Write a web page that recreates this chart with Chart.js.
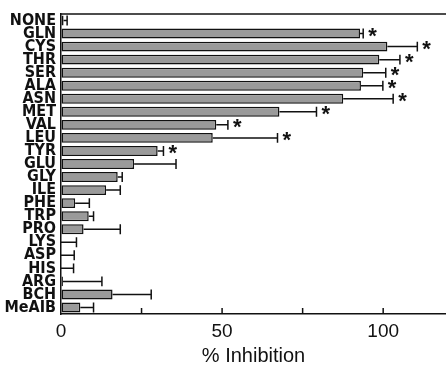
<!DOCTYPE html>
<html>
<head>
<meta charset="utf-8">
<script src="https://cdn.jsdelivr.net/npm/chart.js@4/dist/chart.umd.min.js"></script>
<style>
html,body{margin:0;padding:0;background:#fff;}
#wrap{width:446px;height:368px;position:relative;}
</style>
</head>
<body>
<div id="wrap"><canvas id="c"></canvas></div>
<script>
const categories = ["NONE","GLN","CYS","THR","SER","ALA","ASN","MET","VAL","LEU","TYR","GLU","GLY","ILE","PHE","TRP","PRO","LYS","ASP","HIS","ARG","BCH","MeAIB"];
const inhibition = [0.8, 92.8, 101.3, 98.8, 93.8, 93.1, 87.6, 67.8, 48.2, 47.1, 30.0, 22.7, 17.6, 14.0, 4.4, 8.6, 7.0, 0, 0, 0, 0.6, 16.0, 6.0];
const errorPlus = [1.1, 1.0, 9.3, 6.4, 7.0, 6.8, 15.5, 11.5, 3.6, 20.1, 1.8, 13.0, 1.4, 4.4, 4.4, 1.5, 11.4, 4.8, 4.1, 3.9, 12.1, 12.0, 4.1];
const significant = [false,true,true,true,true,true,true,true,true,true,true,false,false,false,false,false,false,false,false,false,false,false,false];
const xTickLabels = [0, 50, 100];
const xMinorTicks = [25, 50, 75, 100];

const extras = {
  id: 'extras',
  afterDatasetsDraw(chart) {
    const ctx = chart.ctx;
    const xs = chart.scales.x;
    const meta = chart.getDatasetMeta(0);
    const ca = chart.chartArea;
    ctx.save();
    ctx.strokeStyle = '#111';
    ctx.lineWidth = 1.5;
    ctx.beginPath();
    ctx.moveTo(ca.left, ca.top);
    ctx.lineTo(ca.right, ca.top);
    ctx.stroke();
    xMinorTicks.forEach(v => {
      const px = xs.getPixelForValue(v);
      ctx.beginPath();
      ctx.moveTo(px, ca.bottom);
      ctx.lineTo(px, ca.bottom - 6);
      ctx.stroke();
    });
    meta.data.forEach((bar, i) => {
      const y = bar.y;
      const x0 = xs.getPixelForValue(inhibition[i]);
      const x1 = xs.getPixelForValue(inhibition[i] + errorPlus[i]);
      const h = bar.height;
      ctx.beginPath();
      ctx.moveTo(x0, y);
      ctx.lineTo(x1, y);
      ctx.moveTo(x1, y - h / 2);
      ctx.lineTo(x1, y + h / 2);
      ctx.stroke();
      if (significant[i]) {
        ctx.fillStyle = '#111';
        ctx.font = 'bold 22px "Liberation Sans", Arial, sans-serif';
        ctx.textAlign = 'left';
        ctx.textBaseline = 'middle';
        ctx.fillText('*', x1 + 5, y + 3);
      }
    });
    ctx.restore();
  }
};

new Chart(document.getElementById('c'), {
  type: 'bar',
  data: {
    labels: categories,
    datasets: [{
      data: inhibition,
      backgroundColor: '#9a9a9a',
      borderColor: '#111',
      borderWidth: 1.5,
      borderSkipped: false,
      barPercentage: 0.76,
      categoryPercentage: 1.0
    }]
  },
  options: {
    indexAxis: 'y',
    responsive: true,
    maintainAspectRatio: false,
    animation: false,
    layout: { padding: { top: 14, left: 0, right: 0, bottom: 0 } },
    plugins: { legend: { display: false }, tooltip: { enabled: false } },
    scales: {
      x: {
        type: 'linear',
        min: 0,
        max: 119.5,
        afterFit(s) { s.height = 54; s.paddingRight = 0; s.paddingLeft = 0; },
        grid: { display: true, drawOnChartArea: false, drawTicks: false },
        border: { display: true, color: '#111', width: 1.5 },
        ticks: {
          stepSize: 25,
          includeBounds: false,
          padding: 6,
          autoSkip: false,
          maxRotation: 0,
          color: '#111',
          font: { family: '"Liberation Sans", Arial, sans-serif', size: 19 },
          callback: v => xTickLabels.includes(v) ? String(v) : ''
        },
        title: {
          display: true,
          text: '% Inhibition',
          color: '#111',
          font: { family: '"Liberation Sans", Arial, sans-serif', size: 20 },
          padding: { top: 0, bottom: 0 }
        }
      },
      y: {
        type: 'category',
        offset: true,
        afterFit(s) { s.width = 61; s.paddingTop = 0; s.paddingBottom = 0; },
        grid: { display: false, drawTicks: false },
        border: { display: true, color: '#111', width: 1.5 },
        ticks: {
          padding: 5,
          color: '#111',
          autoSkip: false,
          font: { family: '"DejaVu Sans Condensed", "Liberation Sans Narrow", sans-serif', size: 16, weight: 'bold' }
        }
      }
    }
  },
  plugins: [extras]
});
</script>
</body>
</html>
